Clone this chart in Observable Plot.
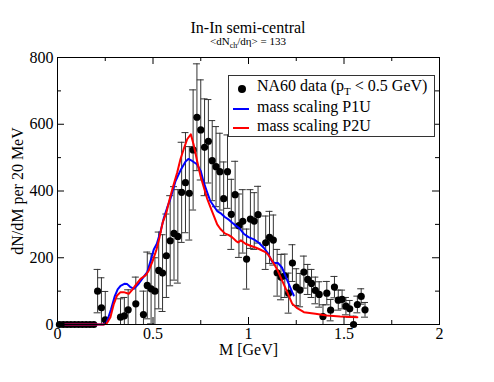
<!DOCTYPE html>
<html><head><meta charset="utf-8">
<script src="https://cdn.jsdelivr.net/npm/d3@7"></script>
<script src="https://cdn.jsdelivr.net/npm/@observablehq/plot@0.6"></script>
<style>
body{margin:0;background:#fff;}
#wrap{position:relative;width:494px;height:382px;font-family:"Liberation Serif","Times New Roman",serif;color:#000;}
#title{position:absolute;left:0;top:20px;width:496px;text-align:center;font-size:16px;line-height:16px;white-space:nowrap;}
#subtitle{position:absolute;left:0;top:36px;width:496px;text-align:center;font-size:11px;line-height:11px;white-space:nowrap;}
#subtitle sub{font-size:8px;vertical-align:-3px;line-height:0;}
#legend{position:absolute;left:228px;top:75px;width:207px;height:62px;box-sizing:border-box;border:1px solid #333;background:#fff;}
.ltxt{position:absolute;left:28px;font-size:16px;line-height:16px;white-space:nowrap;}
.ltxt sub{font-size:11px;vertical-align:-4px;line-height:0;}
.ldot{position:absolute;left:9px;top:9px;width:8px;height:8px;border-radius:50%;background:#000;}
.lline{position:absolute;left:4px;width:16px;height:2px;}
</style>
</head><body>
<div id="wrap">
  <div id="chart"></div>
  <div id="title">In-In semi-central</div>
  <div id="subtitle">&lt;dN<sub>ch</sub>/dη&gt; = 133</div>
  <div id="legend">
    <span class="ldot"></span><span class="ltxt" style="top:2px">NA60 data (p<sub>T</sub> &lt; 0.5 GeV)</span>
    <span class="lline" style="top:32px;background:#0000ff"></span><span class="ltxt" style="top:23px">mass scaling P1U</span>
    <span class="lline" style="top:51px;background:#ff0000"></span><span class="ltxt" style="top:42px">mass scaling P2U</span>
  </div>
</div>
<script>
// NA60 data points
const massGeV = [0.01,0.03,0.05,0.07,0.09,0.11,0.13,0.15,0.17,0.19,0.21,0.23,0.25,0.33,0.35,0.37,0.41,0.45,0.47,0.49,0.51,0.53,0.55,0.57,0.59,0.61,0.63,0.65,0.67,0.69,0.71,0.73,0.75,0.77,0.79,0.81,0.83,0.85,0.87,0.89,0.91,0.93,0.95,0.97,0.99,1.01,1.03,1.05,1.09,1.11,1.13,1.15,1.17,1.19,1.21,1.23,1.25,1.27,1.29,1.31,1.33,1.35,1.37,1.39,1.41,1.43,1.45,1.47,1.49,1.51,1.53,1.55,1.57,1.59,1.61];
const dNdM = [0,0,0,0,0,0,0,0,0,0,100,50,14,22,26,44,62,30,117,107,100,162,154,206,251,273,264,396,425,393,523,621,583,531,549,491,473,458,377,458,330,389,296,309,196,316,310,329,245,261,253,155,142,146,94,184,112,103,157,135,123,102,90,24,94,43,112,73,75,55,47,0,60,84,44];
const dNdMErr = [0,0,0,0,0,0,0,0,0,0,65,90,85,55,55,60,80,70,100,105,100,115,115,125,135,140,140,150,150,140,180,160,150,145,125,120,120,115,110,110,105,100,95,95,90,88,85,85,80,78,75,70,68,65,60,55,55,50,48,45,42,40,38,35,35,32,32,30,28,26,25,25,25,23,22];

// mass scaling P1U (blue)
const p1uM = [0.04,0.24,0.26,0.28,0.30,0.315,0.33,0.35,0.365,0.38,0.40,0.425,0.45,0.47,0.487,0.504,0.52,0.54,0.557,0.574,0.592,0.618,0.644,0.67,0.685,0.705,0.73,0.75,0.766,0.784,0.80,0.818,0.836,0.853,0.876,0.897,0.915,0.932,0.953,0.975,1.0,1.028,1.054,1.08,1.10,1.124,1.14,1.155,1.176,1.203,1.229,1.237];
const p1uY = [0,0,10,45,85,105,116,122,121,113,107,122,142,157,190,225,242,280,320,350,378,430,462,488,496,490,480,460,425,395,370,355,340,334,322,314,305,297,288,272,262,255,245,230,215,188,184,184,170,132,97,87];

// mass scaling P2U (red)
const p2uM = [0.04,0.245,0.26,0.277,0.295,0.312,0.33,0.347,0.373,0.391,0.408,0.435,0.461,0.478,0.496,0.517,0.534,0.551,0.57,0.585,0.604,0.627,0.644,0.661,0.679,0.698,0.714,0.731,0.749,0.766,0.784,0.801,0.818,0.836,0.853,0.876,0.897,0.915,0.935,0.946,0.96,0.984,1.01,1.04,1.063,1.089,1.106,1.133,1.15,1.168,1.203,1.229,1.255,1.29,1.35,1.41,1.48,1.57];
const p2uY = [0,0,5,22,62,87,97,97,92,104,117,137,147,162,187,222,261,306,335,371,411,456,496,526,555,570,536,490,444,411,376,351,326,300,286,273,268,261,250,246,252,242,236,230,224,217,207,182,165,142,97,62,49,37,32,27,24,22];

// axes
const xDomain = [0, 2];
const yDomain = [0, 800];
const xMajor = [0, 0.5, 1, 1.5, 2];
const xTickLabels = ["0", "0.5", "1", "1.5", "2"];
const xMinor = [0.25, 0.75, 1.25, 1.75];
const yMajor = [0, 200, 400, 600, 800];
const yTickLabels = ["0", "200", "400", "600", "800"];
const yMinor = [100, 300, 500, 700];

const idx = d3.range(massGeV.length);
const withErr = idx.filter(i => dNdMErr[i] > 0);
const p1u = p1uM.map((m, i) => ({m, v: p1uY[i]}));
const p2u = p2uM.map((m, i) => ({m, v: p2uY[i]}));
const errColor = "#333";

const chart = Plot.plot({
  width: 494, height: 382,
  marginLeft: 57, marginRight: 55, marginTop: 57, marginBottom: 58,
  x: {domain: xDomain},
  y: {domain: yDomain},
  style: {fontFamily: "Liberation Serif", fontSize: "16px", color: "black", background: "transparent", overflow: "visible"},
  marks: [
    Plot.ruleX(withErr, {x: i => massGeV[i], y1: i => dNdM[i] - dNdMErr[i], y2: i => dNdM[i] + dNdMErr[i], stroke: errColor, strokeWidth: 1, clip: true}),
    Plot.ruleY(withErr, {y: i => dNdM[i] + dNdMErr[i], x1: i => massGeV[i], x2: i => massGeV[i], insetLeft: -3.5, insetRight: -3.5, stroke: errColor, clip: true}),
    Plot.ruleY(withErr, {y: i => dNdM[i] - dNdMErr[i], x1: i => massGeV[i], x2: i => massGeV[i], insetLeft: -3.5, insetRight: -3.5, stroke: errColor, clip: true}),
    Plot.dot(idx, {x: i => massGeV[i], y: i => dNdM[i], r: 3.6, fill: "black"}),
    Plot.line(p1u, {x: "m", y: "v", stroke: "#0000ff", strokeWidth: 2}),
    Plot.line(p2u, {x: "m", y: "v", stroke: "#ff0000", strokeWidth: 2}),
    Plot.frame({stroke: "black", strokeWidth: 1}),
    // inward ticks, mirrored on all four sides
    Plot.ruleX(xMajor, {x: d => d, y1: yDomain[0], y2: yDomain[0], insetTop: -7, stroke: "black"}),
    Plot.ruleX(xMinor, {x: d => d, y1: yDomain[0], y2: yDomain[0], insetTop: -4, stroke: "black"}),
    Plot.ruleX(xMajor, {x: d => d, y1: yDomain[1], y2: yDomain[1], insetBottom: -7, stroke: "black"}),
    Plot.ruleX(xMinor, {x: d => d, y1: yDomain[1], y2: yDomain[1], insetBottom: -4, stroke: "black"}),
    Plot.ruleY(yMajor, {y: d => d, x1: xDomain[0], x2: xDomain[0], insetRight: -7, stroke: "black"}),
    Plot.ruleY(yMinor, {y: d => d, x1: xDomain[0], x2: xDomain[0], insetRight: -4, stroke: "black"}),
    Plot.ruleY(yMajor, {y: d => d, x1: xDomain[1], x2: xDomain[1], insetLeft: -7, stroke: "black"}),
    Plot.ruleY(yMinor, {y: d => d, x1: xDomain[1], x2: xDomain[1], insetLeft: -4, stroke: "black"}),
    Plot.axisX({ticks: xMajor, tickSize: 0, tickPadding: 3, label: null, tickFormat: d => xTickLabels[xMajor.indexOf(d)]}),
    Plot.axisY({ticks: yMajor, tickSize: 0, tickPadding: 4, label: null, tickFormat: d => yTickLabels[yMajor.indexOf(d)]}),
    Plot.text(["M [GeV]"], {frameAnchor: "bottom", dy: 25, lineAnchor: "middle", textAnchor: "middle", fontSize: 16}),
    Plot.text(["dN/dM per 20 MeV"], {frameAnchor: "left", dx: -40, rotate: -90, lineAnchor: "middle", textAnchor: "middle", fontSize: 16})
  ]
});
document.getElementById("chart").appendChild(chart);
</script>
</body></html>
